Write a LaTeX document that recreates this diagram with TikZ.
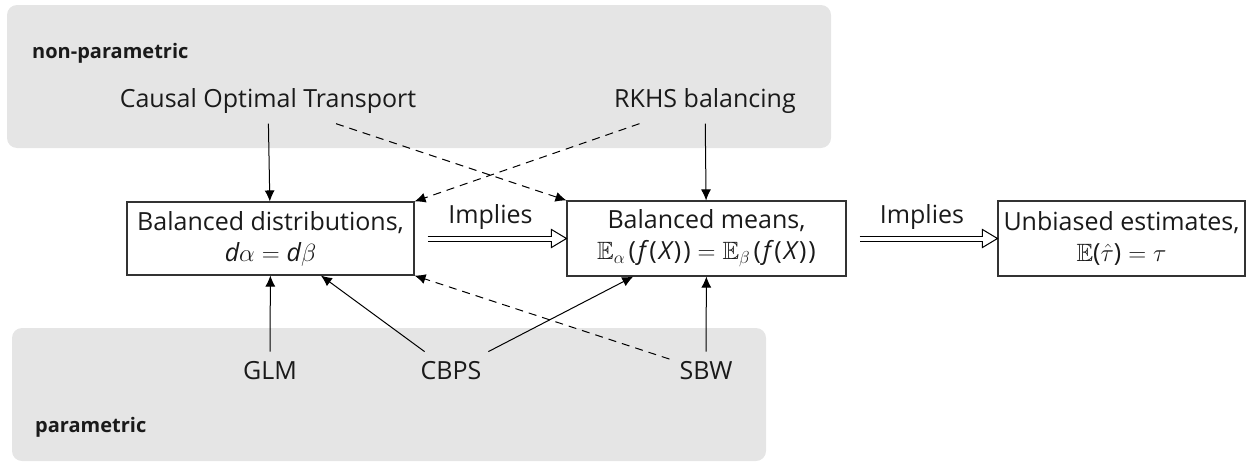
\documentclass[tikz,border=0pt]{standalone}
\usepackage{amssymb}
\usepackage{fontspec}
\setmainfont{Open Sans}
\usetikzlibrary{arrows.meta,calc}
\definecolor{txt}{HTML}{1A1A1A}
\definecolor{boxc}{HTML}{333333}
\definecolor{grp}{HTML}{E5E5E5}
\newcommand{\sfi}[1]{\textit{#1}}
\newcommand{\lp}{\mkern2.5mu\textup{(}\mkern1.5mu}
\newcommand{\rp}{\mkern1.5mu\textup{)}}
\begin{document}
\begin{tikzpicture}[x=1pt,y=-1pt,
  every node/.style={text=txt},
  lbl/.style={font=\fontsize{25}{31}\selectfont, inner sep=10pt},
  grplabel/.style={font=\fontsize{20}{24}\selectfont\bfseries, anchor=west, inner sep=0pt},
  grpbox/.style={fill=grp, rounded corners=10pt},
  state/.style={draw=boxc, line width=1.1pt, fill=white, align=center,
    font=\fontsize{25}{31}\selectfont, inner sep=0pt},
  link/.style={line width=1pt, draw=black, -{Latex[length=11pt,width=10pt]}},
  dlink/.style={link, dash pattern=on 8pt off 6pt},
  implline/.style={double, double distance=4pt, line width=1pt, shorten <=13pt, shorten >=14pt},
  implhead/.style={line width=1pt, fill=white, line join=miter},
]
\useasboundingbox (0,0) rectangle (1253,463);

% method families
\fill[grpbox] (7,5) rectangle (831,148);
\fill[grpbox] (12,328) rectangle (766,461);
\node[grplabel] (np) at (32,53) {non-parametric};
\node[grplabel] (pa) at (35,427) {parametric};

% methods
\node[lbl] (cot)  at (268,101) {Causal Optimal Transport};
\node[lbl] (rkhs) at (705,101) {RKHS balancing};
\node[lbl] (glm)  at (270,371) {GLM};
\node[lbl] (cbps) at (451,371) {CBPS};
\node[lbl] (sbw)  at (706,371) {SBW};

% balance properties
\node[state, minimum width=287pt, minimum height=73pt] (bd) at (270.5,238.5)
  {Balanced distributions,\\ $\sfi{d}\alpha = \sfi{d}\beta$};
\node[state, minimum width=279pt, minimum height=75pt] (bm) at (706.5,238.5)
  {Balanced means,\\ $\mathbb{E}_\alpha\lp\sfi{f}\lp\sfi{X}\rp\rp = \mathbb{E}_\beta\lp\sfi{f}\lp\sfi{X}\rp\rp$};
\node[state, minimum width=247pt, minimum height=75pt] (ue) at (1121.5,238.5)
  {Unbiased estimates,\\ $\mathbb{E}\textup{(}\hat\tau\textup{)} = \tau$};

% implications: double shaft ending in an open head
\foreach \a/\b/\n in {bd/bm/imp1, bm/ue/imp2} {
  \draw[implhead] ($(\b.west)+(-15,-9)$) -- (\b.west) -- ($(\b.west)+(-15,9)$) -- cycle;
  \draw[implline] (\a) -- node[lbl, above, inner sep=6pt, yshift=2pt] (\n) {Implies} (\b);
}

% method links
\draw[link]  (cot)  -- (bd);
\draw[dlink] (cot)  -- (bm.north west);
\draw[link]  (rkhs) -- (bm);
\draw[dlink] (rkhs) -- (bd.north east);
\draw[link]  (glm)  -- (bd);
\draw[link]  (cbps) -- (bd);
\draw[link]  (cbps) -- (bm);
\draw[link]  (sbw)  -- (bm);
\draw[dlink] (sbw)  -- (bd.south east);
\end{tikzpicture}
\end{document}
